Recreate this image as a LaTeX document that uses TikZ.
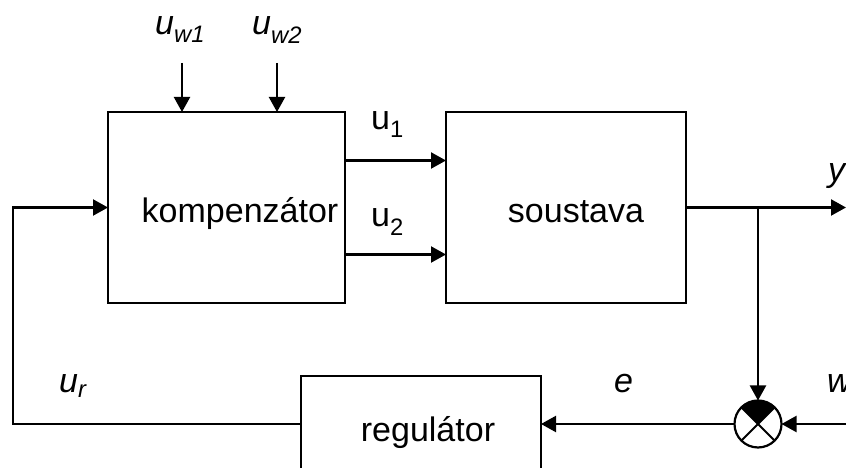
\documentclass[tikz,border=0pt]{standalone}
\usepackage{fontspec}
\setmainfont{Liberation Sans}
\usetikzlibrary{positioning}
\usetikzlibrary{arrows.meta}

\tikzset{
  block/.style={draw, line width=2.2pt, minimum height=191pt, inner sep=0pt, outer sep=0pt},
  flow/.style={line width=2.2pt, -{Triangle[length=15pt,width=16pt]}},
  wire/.style={line width=1.8pt},
  lbl/.style={anchor=base west, inner sep=0pt, font=\fontsize{34}{40}\selectfont},
}

\begin{document}
\begin{tikzpicture}[x=1pt, y=1pt]
    \clip (0,0) rectangle (846,468);

    % blocks
    \node[block, minimum width=237pt] (komp) at (226.5,260.5) {};
    \node[block, minimum width=240pt, right=101pt of komp] (soust) {};
    \node[block, minimum width=240pt, minimum height=96pt] (reg) at (421,44) {};
    \node[draw, circle, line width=2.2pt, minimum size=47pt, inner sep=0pt, outer sep=0pt] (sum) at (758,44) {};

    \node[lbl, anchor=base] (kompText) at (240,245) {kompenzátor};
    \node[lbl, anchor=base] (soustText) at (576,245) {soustava};
    \node[lbl, anchor=base] (regText) at (428,26) {regulátor};

    % comparator
    \fill (sum.center) -- (sum.45) arc[start angle=45, end angle=135, radius=23.5pt] -- cycle;
    \draw[wire] (sum.45) -- (sum.225) (sum.135) -- (sum.315);

    \coordinate (yout) at (846,260.5);
    \coordinate (branch) at (sum |- soust.east);
    \coordinate (win) at (846,44);
    \coordinate (fb) at (13,260.5);
    \coordinate (w1) at (182,405);
    \coordinate (w2) at (277,405);

    % connectors
    \draw[flow] (w1) -- (w1 |- komp.north);
    \draw[flow] (w2) -- (w2 |- komp.north);
    \draw[flow] ([yshift=47pt]komp.east) -- ([yshift=47pt]soust.west);
    \draw[flow] ([yshift=-47pt]komp.east) -- ([yshift=-47pt]soust.west);
    \draw[flow] (soust.east) -- (yout);
    \draw[flow] (branch) -- (sum.north);
    \draw[flow] (win) -- (sum.east);
    \draw[flow] (sum.west) -- (reg.east);
    \draw[flow] (reg.west) -| (fb) -- (komp.west);

    % signals
    \node[lbl] (uw1) at (155,433) {\itshape u\textsubscript{w1}};
    \node[lbl] (uw2) at (252,433) {\itshape u\textsubscript{w2}};
    \node[lbl] (u1) at (371,338) {u\textsubscript{1}};
    \node[lbl] (u2) at (371,241) {u\textsubscript{2}};
    \node[lbl] (yLbl) at (828,286) {\itshape y};
    \node[lbl] (wLbl) at (827,75) {\itshape w};
    \node[lbl] (eLbl) at (614,75) {\itshape e};
    \node[lbl] (urLbl) at (59,75) {\itshape u\textsubscript{r}};
\end{tikzpicture}
\end{document}
